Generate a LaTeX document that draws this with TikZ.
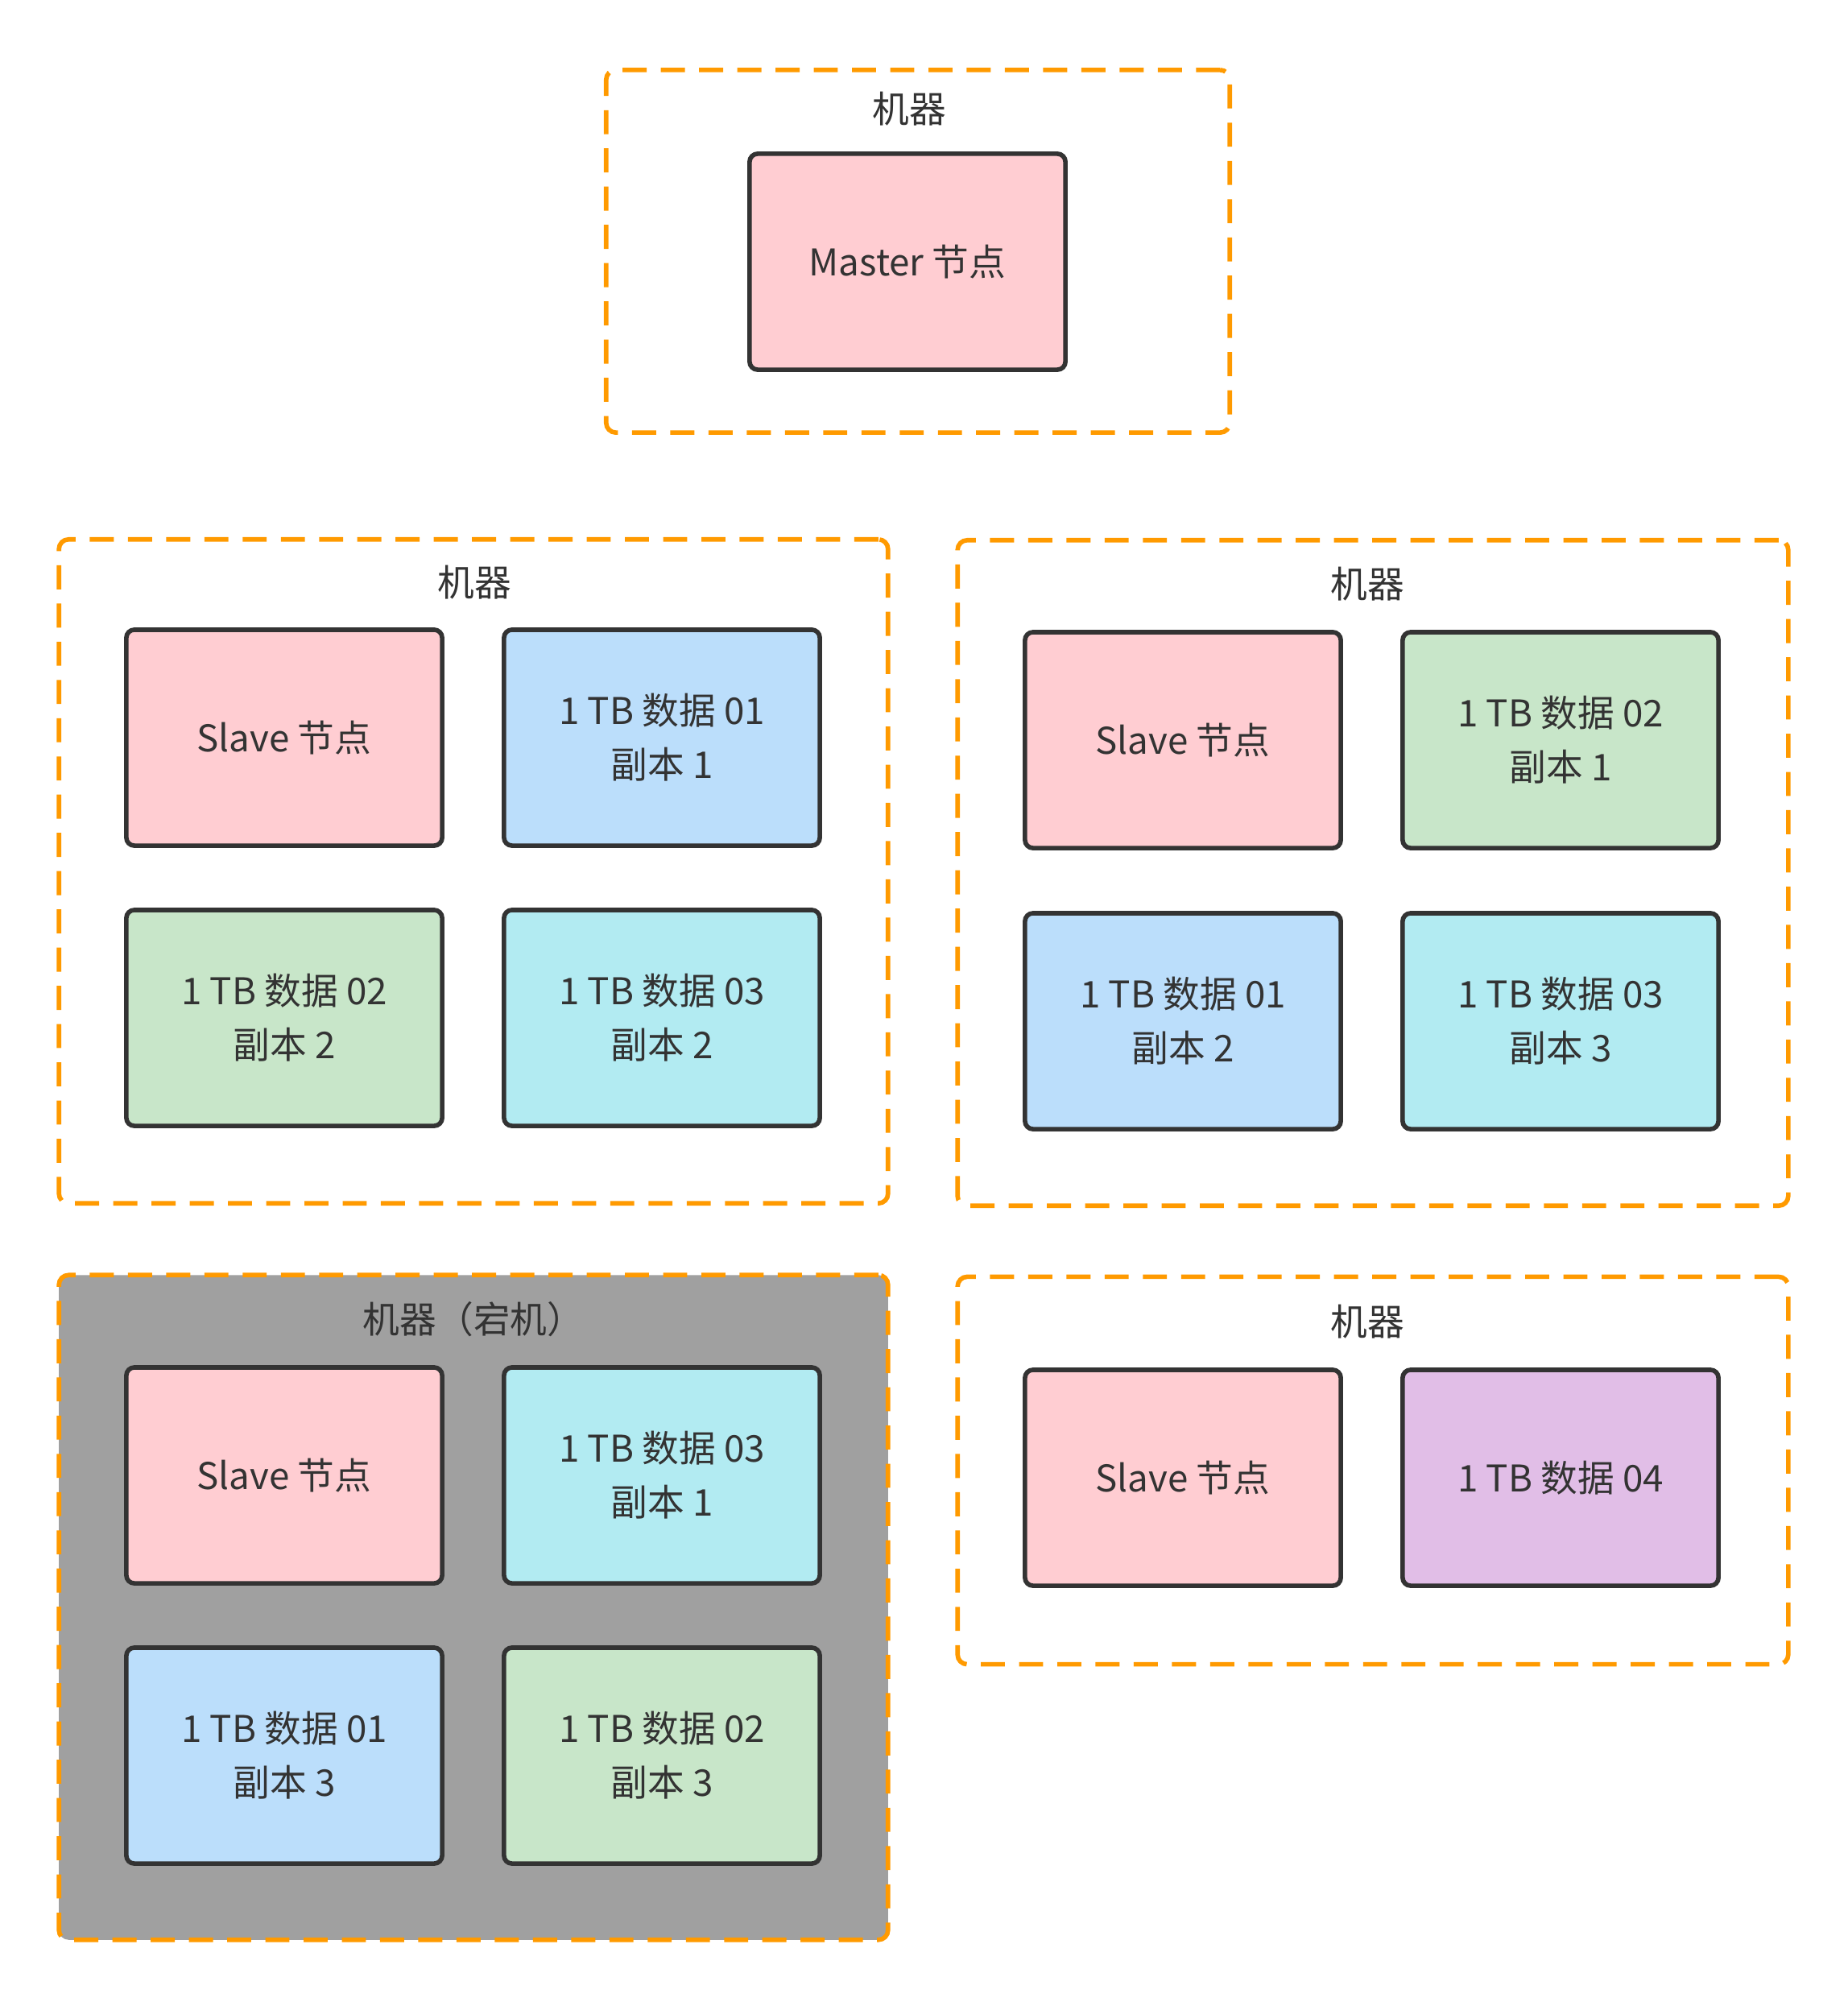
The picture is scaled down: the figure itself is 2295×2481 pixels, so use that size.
\documentclass[tikz,border=0pt]{standalone}
\usepackage{fontspec}
\setmainfont{Noto Sans CJK SC}
\definecolor{inkgray}{HTML}{333333}
\definecolor{dashorange}{HTML}{FF9A00}
\definecolor{downgray}{HTML}{A0A0A0}
\definecolor{slavepink}{HTML}{FFCDD2}
\definecolor{datablue}{HTML}{BBDEFB}
\definecolor{datagreen}{HTML}{C8E6C9}
\definecolor{datacyan}{HTML}{B2EBF2}
\definecolor{datapurple}{HTML}{E1BEE7}
\tikzset{
    machine/.style={draw=dashorange, line width=1.6pt, dash pattern=on 8.5pt off 5pt,
        rounded corners=0.12cm, inner sep=0pt},
    tagtext/.style={text=inkgray, font=\fontsize{13pt}{19pt}\selectfont},
    block/.style={draw=inkgray, line width=1.6pt, rounded corners=0.1cm,
        minimum width=3.92cm, minimum height=2.68cm, align=center,
        text=inkgray, font=\fontsize{13pt}{19pt}\selectfont},
    slave/.style={block, fill=slavepink},
}
\begin{document}
\begin{tikzpicture}[x=0.01cm, y=-0.01cm]
    \useasboundingbox (0, 0) rectangle (2295, 2481);
    % machine with master
    \node[machine, minimum width=7.74cm, minimum height=4.50cm] (machA) at (1140, 312) {};
    \node[tagtext] (tagA) at (1129, 135) {机器};
    \node[slave] (master) at (1127, 325) {Master 节点};
    % first row of machines
    \node[machine, minimum width=10.29cm, minimum height=8.24cm] (machB) at (588, 1082) {};
    \node[tagtext] (tagB) at (589, 723) {机器};
    \node[slave] (slaveB) at (353, 916) {Slave 节点};
    \node[block, fill=datablue] (dataBa) at (822, 916) {1 TB 数据 01\\副本 1};
    \node[block, fill=datagreen] (dataBb) at (353, 1264) {1 TB 数据 02\\副本 2};
    \node[block, fill=datacyan] (dataBc) at (822, 1264) {1 TB 数据 03\\副本 2};
    \node[machine, minimum width=10.31cm, minimum height=8.26cm] (machC) at (1705, 1084) {};
    \node[tagtext] (tagC) at (1698, 725) {机器};
    \node[slave] (slaveC) at (1469, 919) {Slave 节点};
    \node[block, fill=datagreen] (dataCa) at (1938, 919) {1 TB 数据 02\\副本 1};
    \node[block, fill=datablue] (dataCb) at (1469, 1268) {1 TB 数据 01\\副本 2};
    \node[block, fill=datacyan] (dataCc) at (1938, 1268) {1 TB 数据 03\\副本 3};
    % second row, the one on the left is down
    \node[machine, fill=downgray, minimum width=10.29cm, minimum height=8.25cm] (machD) at (588, 1996) {};
    \node[tagtext] (tagD) at (588, 1638) {机器（宕机）};
    \node[slave] (slaveD) at (353, 1832) {Slave 节点};
    \node[block, fill=datacyan] (dataDa) at (822, 1832) {1 TB 数据 03\\副本 1};
    \node[block, fill=datablue] (dataDb) at (353, 2180) {1 TB 数据 01\\副本 3};
    \node[block, fill=datagreen] (dataDc) at (822, 2180) {1 TB 数据 02\\副本 3};
    \node[machine, minimum width=10.31cm, minimum height=4.81cm] (machE) at (1705, 1826) {};
    \node[tagtext] (tagE) at (1698, 1641) {机器};
    \node[slave] (slaveE) at (1469, 1835) {Slave 节点};
    \node[block, fill=datapurple] (dataEa) at (1938, 1835) {1 TB 数据 04};
\end{tikzpicture}
\end{document}
